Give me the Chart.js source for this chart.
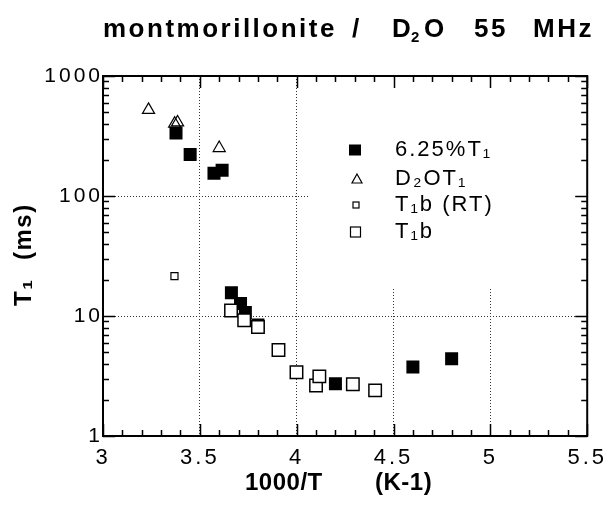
<!DOCTYPE html>
<html>
<head>
<meta charset="utf-8">
<script src="https://cdn.jsdelivr.net/npm/chart.js@4.4.0/dist/chart.umd.min.js"></script>
<style>
  html, body { margin: 0; padding: 0; background: #fff; }
</style>
</head>
<body>
<canvas id="chart" width="616" height="511"></canvas>
<script>
// 6.25% sample, T1 (filled squares)
const sampleX = [3.377, 3.45, 3.573, 3.615, 3.663, 3.71, 3.735, 3.80, 4.20, 4.60, 4.80];
const sampleY = [335, 222, 155, 164, 15.6, 12.7, 10.7, 8.4, 2.73, 3.76, 4.4];
// D2O T1 (open triangles)
const d2oX = [3.235, 3.37, 3.385, 3.60];
const d2oY = [522, 400, 410, 251];
// T1b at room temperature (small open square)
const rtX = [3.369];
const rtY = [21.5];
// T1b (open squares)
const boundX = [3.661, 3.729, 3.80, 3.906, 3.999, 4.10, 4.117, 4.29, 4.405];
const boundY = [11.1, 9.2, 8.1, 5.2, 3.4, 2.64, 3.14, 2.7, 2.4];

const seriesNames = ['6.25%T\u2081', 'D\u2082OT\u2081', 'T\u2081b (RT)', 'T\u2081b'];
const xTicks = [3, 3.5, 4, 4.5, 5, 5.5];
const yTicks = [1, 10, 100, 1000];

const FONT = '"Liberation Sans", Arial, Helvetica, sans-serif';

const pts = (xs, ys) => xs.map((x, i) => ({ x: x, y: ys[i] }));

// frame, inward ticks, titles and the legend box
const decor = {
  id: 'decor',
  beforeLayout(chart) { chart.ctx.letterSpacing = '3px'; },
  beforeDraw(chart) { chart.ctx.letterSpacing = '3px'; },
  beforeDatasetsDraw(chart) {
    const ctx = chart.ctx;
    const a = chart.chartArea;
    // legend sits on a blank patch that hides the grid
    ctx.save();
    ctx.fillStyle = '#fff';
    ctx.fillRect(310, a.top + 1, a.right - 311, 288 - a.top);
    ctx.restore();
  },
  afterDraw(chart) {
    const ctx = chart.ctx;
    const a = chart.chartArea;
    const xs = chart.scales.x, ys = chart.scales.y;
    ctx.save();
    ctx.strokeStyle = '#000';
    ctx.lineWidth = 2;
    ctx.strokeRect(a.left, a.top, a.right - a.left, a.bottom - a.top);

    ctx.lineWidth = 1.5;
    ctx.beginPath();
    for (let i = 0; i <= 25; i++) {
      const v = 3 + i * 0.1;
      const px = Math.round(xs.getPixelForValue(v)) + 0.5;
      const len = i % 5 === 0 ? 12 : 6;
      ctx.moveTo(px, a.bottom); ctx.lineTo(px, a.bottom - len);
      ctx.moveTo(px, a.top); ctx.lineTo(px, a.top + len);
    }
    for (let d = 1; d <= 1000; d *= 10) {
      for (let m = 1; m <= 9; m++) {
        const v = d * m;
        if (v > 1000) break;
        const py = Math.round(ys.getPixelForValue(v)) + 0.5;
        const len = m === 1 ? 12 : 6;
        ctx.moveTo(a.left, py); ctx.lineTo(a.left + len, py);
        ctx.moveTo(a.right, py); ctx.lineTo(a.right - len, py);
      }
    }
    ctx.stroke();

    ctx.fillStyle = '#000';
    ctx.textBaseline = 'alphabetic';
    ctx.textAlign = 'left';

    // chart title
    ctx.font = 'bold 26px ' + FONT;
    ctx.letterSpacing = '2.5px';
    ctx.fillText('montmorillonite', 103, 37);
    ctx.fillText('/', 352, 37);
    ctx.fillText('D', 392, 37);
    ctx.fillText('O', 424, 37);
    ctx.fillText('55', 474, 37);
    ctx.fillText('MHz', 533, 37);
    ctx.font = 'bold 15px ' + FONT;
    ctx.fillText('2', 411, 42);

    // x axis title
    ctx.font = 'bold 24px ' + FONT;
    ctx.letterSpacing = '0.5px';
    ctx.fillText('1000/T', 245, 490);
    ctx.fillText('(K-1)', 375, 490);

    // y axis title
    ctx.save();
    ctx.translate(31, 306);
    ctx.rotate(-Math.PI / 2);
    ctx.letterSpacing = '1.5px';
    ctx.fillText('T\u2081', 0, 0);
    ctx.fillText('(ms)', 46, 0);
    ctx.restore();

    // legend
    const rows = [150, 179, 205, 232];
    ctx.font = '22px ' + FONT;
    ctx.letterSpacing = '2px';
    ctx.textBaseline = 'middle';
    chart.data.datasets.forEach((ds, i) => {
      const y = rows[i];
      ctx.fillStyle = '#000';
      ctx.fillText(ds.label, 395, y);
      ctx.lineWidth = 1.2;
      ctx.strokeStyle = '#000';
      if (i === 0) {
        ctx.fillRect(349, y - 5.5, 12, 11);
      } else if (i === 1) {
        ctx.beginPath();
        ctx.moveTo(357, y - 5); ctx.lineTo(362, y + 4); ctx.lineTo(352, y + 4); ctx.closePath();
        ctx.stroke();
      } else if (i === 2) {
        ctx.strokeRect(353, y - 3, 6, 6);
      } else {
        ctx.strokeRect(350.5, y - 5, 10, 10);
      }
    });
    ctx.restore();
  }
};

new Chart(document.getElementById('chart'), {
  type: 'scatter',
  data: {
    datasets: [
      {
        label: seriesNames[0],
        data: pts(sampleX, sampleY),
        pointStyle: 'rect',
        pointRadius: 9.2,
        backgroundColor: '#000',
        borderColor: '#000',
        borderWidth: 0,
        order: 4
      },
      {
        label: seriesNames[1],
        data: pts(d2oX, d2oY),
        pointStyle: 'triangle',
        pointRadius: 7,
        backgroundColor: 'rgba(0,0,0,0)',
        borderColor: '#000',
        borderWidth: 1.2,
        order: 3
      },
      {
        label: seriesNames[2],
        data: pts(rtX, rtY),
        pointStyle: 'rect',
        pointRadius: 5,
        backgroundColor: '#fff',
        borderColor: '#000',
        borderWidth: 1.2,
        order: 2
      },
      {
        label: seriesNames[3],
        data: pts(boundX, boundY),
        pointStyle: 'rect',
        pointRadius: 8.8,
        backgroundColor: '#fff',
        borderColor: '#000',
        borderWidth: 1.5,
        order: 1
      }
    ]
  },
  options: {
    responsive: false,
    animation: false,
    events: [],
    layout: { padding: { left: 0, right: 20, top: 76, bottom: 0 } },
    plugins: {
      legend: { display: false },
      tooltip: { enabled: false }
    },
    scales: {
      x: {
        type: 'linear',
        min: 3,
        max: 5.5,
        afterBuildTicks: s => { s.ticks = xTicks.map(v => ({ value: v })); },
        afterFit: s => { s.height = 75; },
        ticks: {
          callback: v => String(v),
          padding: 9,
          color: '#000',
          font: { family: FONT, size: 22 }
        },
        grid: { drawTicks: false, color: '#333', lineWidth: 1 },
        border: { display: false, dash: [1, 2] }
      },
      y: {
        type: 'logarithmic',
        min: 1,
        max: 1000,
        afterBuildTicks: s => { s.ticks = yTicks.map(v => ({ value: v })); },
        afterFit: s => { s.width = 103; },
        ticks: {
          callback: v => String(v),
          padding: 0,
          color: '#000',
          font: { family: FONT, size: 21 }
        },
        grid: { drawTicks: false, color: '#333', lineWidth: 1 },
        border: { display: false, dash: [1, 2] }
      }
    }
  },
  plugins: [decor]
});
</script>
</body>
</html>
